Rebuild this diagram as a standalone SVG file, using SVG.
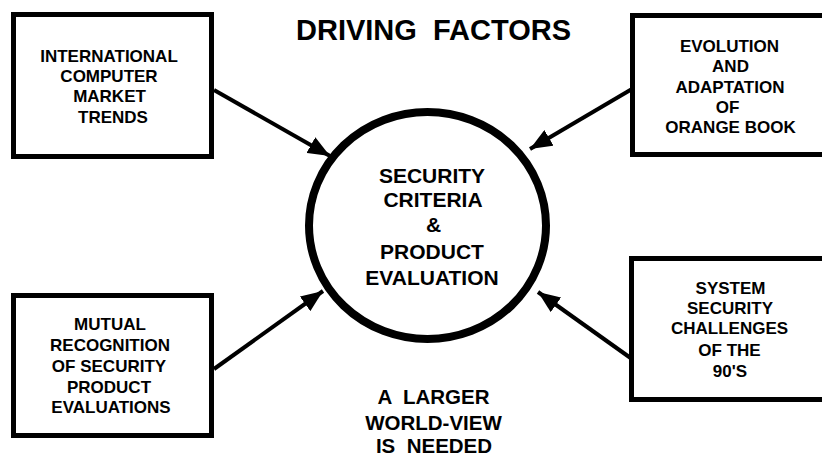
<svg xmlns="http://www.w3.org/2000/svg" width="822" height="457" viewBox="0 0 822 457">
<style>
.box{fill:#fff;stroke:#000;stroke-width:5}
.t{font-family:"Liberation Sans",Arial,sans-serif;font-weight:bold;fill:#000;text-anchor:middle}
.s{font-size:17px}
.c{font-size:21px}
.b{font-size:20.5px}
.con{stroke:#000;stroke-width:4;fill:none;marker-end:url(#ah)}
</style>
<defs>
<marker id="ah" markerUnits="userSpaceOnUse" markerWidth="24" markerHeight="18" refX="22" refY="9" orient="auto">
<path d="M0,0 L22,9 L0,18 Z" fill="#000"/>
</marker>
</defs>
<rect width="822" height="457" fill="#fff"/>
<text class="t" x="433.5" y="40" font-size="29" xml:space="preserve">DRIVING  FACTORS</text>
<g id="connectors">
<line class="con" x1="214" y1="90" x2="330" y2="156"/>
<line class="con" x1="632" y1="89" x2="530" y2="149"/>
<line class="con" x1="214" y1="369" x2="323" y2="291"/>
<line class="con" x1="632" y1="359" x2="538" y2="292"/>
</g>
<g id="n1">
<rect class="box" x="13.5" y="14.5" width="198" height="142"/>
<text class="t s" x="109" y="62">INTERNATIONAL</text>
<text class="t s" x="109" y="82">COMPUTER</text>
<text class="t s" x="109.5" y="102">MARKET</text>
<text class="t s" x="113" y="123">TRENDS</text>
</g>
<g id="n2">
<rect class="box" x="632.5" y="15.5" width="200" height="139"/>
<text class="t s" x="729.5" y="52">EVOLUTION</text>
<text class="t s" x="730.5" y="72">AND</text>
<text class="t s" x="730" y="93">ADAPTATION</text>
<text class="t s" x="727.5" y="113">OF</text>
<text class="t s" x="730.5" y="133">ORANGE BOOK</text>
</g>
<g id="n3">
<rect class="box" x="13.5" y="295.5" width="198" height="140"/>
<text class="t s" x="110" y="330">MUTUAL</text>
<text class="t s" x="110" y="351">RECOGNITION</text>
<text class="t s" x="109" y="372">OF SECURITY</text>
<text class="t s" x="109" y="393">PRODUCT</text>
<text class="t s" x="111" y="413">EVALUATIONS</text>
</g>
<g id="n4">
<rect class="box" x="631.5" y="258.5" width="200" height="141"/>
<text class="t s" x="730.5" y="294">SYSTEM</text>
<text class="t s" x="730" y="314">SECURITY</text>
<text class="t s" x="729.5" y="334">CHALLENGES</text>
<text class="t s" x="729.5" y="356">OF THE</text>
<text class="t s" x="730" y="377">90'S</text>
</g>
<g id="center">
<ellipse cx="427.5" cy="225.5" rx="118.5" ry="113.5" fill="#fff" stroke="#000" stroke-width="8"/>
<text class="t c" x="432" y="183">SECURITY</text>
<text class="t c" x="433" y="207">CRITERIA</text>
<text class="t c" x="433.5" y="232">&amp;</text>
<text class="t c" x="432" y="259">PRODUCT</text>
<text class="t c" x="432" y="285">EVALUATION</text>
</g>
<g id="note">
<text class="t b" x="433.5" y="404" xml:space="preserve">A  LARGER</text>
<text class="t b" x="433.5" y="430">WORLD-VIEW</text>
<text class="t b" x="434" y="453" xml:space="preserve">IS  NEEDED</text>
</g>
</svg>
